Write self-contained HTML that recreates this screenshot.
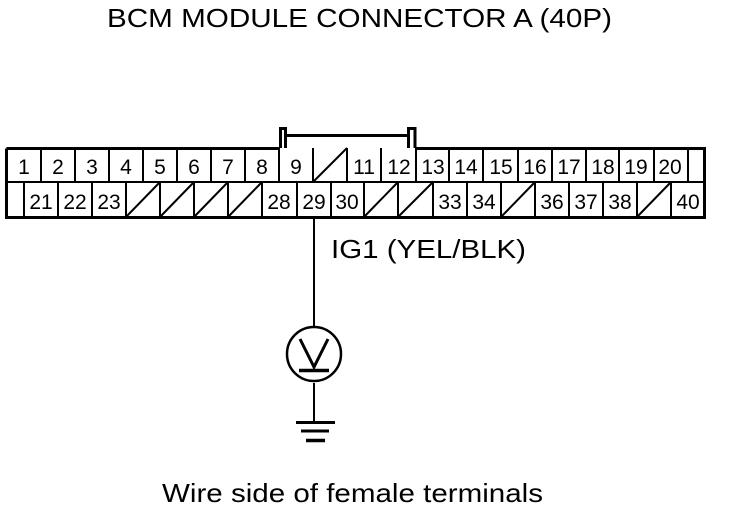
<!DOCTYPE html>
<html><head><meta charset="utf-8"><style>
html,body{margin:0;padding:0;background:#fff}
svg{display:block}
text{font-family:"Liberation Sans",sans-serif;fill:#000}
.n{font-size:21px;text-anchor:middle}
.l{stroke:#000;fill:none}
</style></head><body>
<svg width="736" height="512" viewBox="0 0 736 512" xmlns="http://www.w3.org/2000/svg">
<text x="107" y="27" font-size="26" textLength="505" lengthAdjust="spacingAndGlyphs">BCM MODULE CONNECTOR A (40P)</text>
<!-- key -->
<path class="l" stroke-width="3" d="M280.500 148V128.500H285.500V148M408.500 148V128.500H415V148"/>
<path class="l" stroke-width="3" d="M286 135.500H408"/>
<!-- outer -->
<path class="l" stroke-width="3" d="M6.500 148.500H279M416 148.500H704.500V217.500H6.500V148.500"/>
<path class="l" stroke-width="2" d="M6 182H705"/>
<path class="l" stroke-width="2" d="M41 148V182M75 148V182M109 148V182M143 148V182M177 148V182M211 148V182M245 148V182M279 148V182M313 148V182M347 148V182M381 148V182M416 148V182M449 148V182M483 148V182M518 148V182M552 148V182M586 148V182M619 148V182M654 148V182M688 148V182"/>
<path class="l" stroke-width="2" d="M24 182V217M58 182V217M92 182V217M126 182V217M160 182V217M194 182V217M228 182V217M262 182V217M297 182V217M331 182V217M364 182V217M398 182V217M433 182V217M467 182V217M501 182V217M535 182V217M569 182V217M603 182V217M637 182V217M671 182V217"/>
<!-- slashes -->
<path class="l" stroke-width="2" d="M313 182L347 148M126 217L160 182M160 217L194 182M194 217L228 182M228 217L262 182M364 217L398 182M398 217L433 182M501 217L535 182M637 217L671 182"/>
<!-- top numbers -->
<g class="n">
<text x="24" y="174">1</text><text x="58" y="174">2</text><text x="92" y="174">3</text><text x="126" y="174">4</text><text x="160" y="174">5</text><text x="194" y="174">6</text><text x="228" y="174">7</text><text x="262" y="174">8</text><text x="296" y="174">9</text>
<text x="364" y="174">11</text><text x="399" y="174">12</text><text x="433" y="174">13</text><text x="466" y="174">14</text><text x="501" y="174">15</text><text x="535" y="174">16</text><text x="569" y="174">17</text><text x="603" y="174">18</text><text x="636" y="174">19</text><text x="670" y="174">20</text>
<text x="41" y="209">21</text><text x="75" y="209">22</text><text x="109" y="209">23</text><text x="279" y="209">28</text><text x="314" y="209">29</text><text x="347" y="209">30</text><text x="450" y="209">33</text><text x="484" y="209">34</text><text x="552" y="209">36</text><text x="586" y="209">37</text><text x="620" y="209">38</text><text x="688" y="209">40</text>
</g>
<text x="331" y="258" font-size="26" textLength="195" lengthAdjust="spacingAndGlyphs">IG1 (YEL/BLK)</text>
<!-- wire -->
<path class="l" stroke-width="2" d="M314 218V326M314 383V421"/>
<circle class="l" stroke-width="2.500" cx="314" cy="354" r="27"/>
<path class="l" stroke-width="3" d="M300 339L314 367L328 339"/>
<path class="l" stroke-width="3.500" d="M299 370.500H329"/>
<path class="l" stroke-width="3" d="M296 422.500H335M301 431H329"/>
<path class="l" stroke-width="3.500" d="M306 440.500H325"/>
<text x="162" y="502" font-size="26" textLength="381" lengthAdjust="spacingAndGlyphs">Wire side of female terminals</text>
</svg>
</body></html>
